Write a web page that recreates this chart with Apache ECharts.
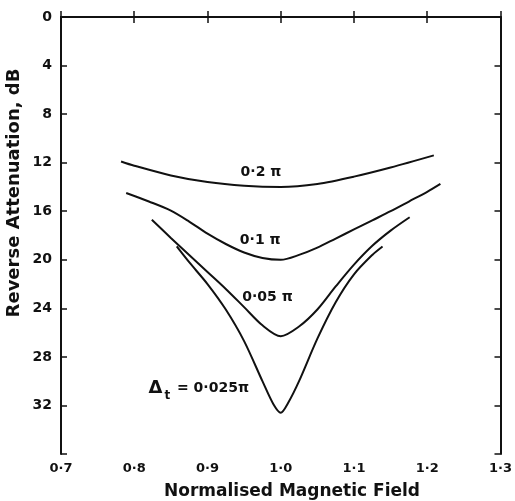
<!DOCTYPE html>
<html>
<head>
<meta charset="utf-8">
<script src="https://cdn.jsdelivr.net/npm/echarts@6/dist/echarts.min.js"></script>
<style>
  html, body { margin: 0; background: #fff; }
  #chart { width: 515px; height: 501px; }
</style>
</head>
<body>
<div id="chart"></div>
<script>
// values
const x02 = [0.782, 0.80, 0.85, 0.90, 0.95, 1.00, 1.05, 1.10, 1.15, 1.209]
const y02 = [11.9, 12.25, 13.05, 13.6, 13.9, 14.0, 13.75, 13.15, 12.4, 11.4]

const x01 = [0.789, 0.82, 0.85, 0.875, 0.90, 0.925, 0.95, 0.975, 1.00, 1.025, 1.05, 1.075, 1.10, 1.125, 1.15, 1.175, 1.20, 1.218]
const y01 = [14.5, 15.2, 15.95, 16.85, 17.85, 18.7, 19.4, 19.85, 20.0, 19.6, 19.0, 18.25, 17.5, 16.75, 16.0, 15.2, 14.4, 13.75]

const x005 = [0.824, 0.85, 0.875, 0.90, 0.925, 0.95, 0.975, 1.00, 1.025, 1.05, 1.075, 1.10, 1.125, 1.15, 1.176]
const y005 = [16.7, 18.2, 19.6, 21.0, 22.4, 23.9, 25.4, 26.3, 25.5, 24.1, 22.2, 20.4, 18.85, 17.6, 16.5]

const x0025 = [0.858, 0.875, 0.90, 0.925, 0.95, 0.975, 0.99, 1.00, 1.01, 1.025, 1.05, 1.075, 1.10, 1.125, 1.139]
const y0025 = [18.9, 20.2, 22.0, 24.1, 26.7, 30.0, 31.9, 32.6, 31.8, 30.0, 26.5, 23.5, 21.2, 19.6, 18.9]

// curve labels: [x, y, text]
const curveLabels = [
  [0.973, 12.8, '0·2 π'],
  [0.972, 18.4, '0·1 π'],
  [0.982, 23.1, '0·05 π'],
  [0.888, 30.6, 'delta']
]

const pairs = (xs, ys) => xs.map((x, i) => [x, ys[i]])
const ink = '#111'
const font = 'DejaVu Sans'
const fmtX = v => v.toFixed(1).replace('.', '·')

const curve = (name, xs, ys) => ({
  name,
  type: 'line',
  data: pairs(xs, ys),
  smooth: 0.3,
  symbol: 'none',
  lineStyle: { color: ink, width: 2 }
})

const baseAxisX = {
  type: 'value',
  min: 0.7,
  max: 1.3,
  interval: 0.1,
  splitLine: { show: false },
  axisLine: { lineStyle: { color: ink, width: 2 } },
  axisTick: { inside: true, length: 6, lineStyle: { color: ink, width: 1.5 } }
}
const baseAxisY = {
  type: 'value',
  inverse: true,
  min: 0,
  max: 36,
  interval: 4,
  splitLine: { show: false },
  axisLine: { lineStyle: { color: ink, width: 2 } },
  axisTick: { inside: true, length: 6, lineStyle: { color: ink, width: 1.5 } }
}

const chart = echarts.init(document.getElementById('chart'))
chart.setOption({
  animation: false,
  grid: { left: 61, right: 12, top: 17, bottom: 47 },
  xAxis: [
    Object.assign({}, baseAxisX, {
      position: 'bottom',
      axisLabel: { color: ink, fontFamily: font, fontSize: 13, fontWeight: 'bold', margin: 8, formatter: fmtX }
    }),
    Object.assign({}, baseAxisX, { position: 'top', axisLabel: { show: false } })
  ],
  yAxis: [
    Object.assign({}, baseAxisY, {
      position: 'left',
      axisLabel: {
        color: ink, fontFamily: font, fontSize: 14, fontWeight: 'bold', margin: 9,
        formatter: v => (v === 36 ? '' : String(v))
      }
    }),
    Object.assign({}, baseAxisY, { position: 'right', axisLabel: { show: false } })
  ],
  graphic: [
    {
      type: 'text', x: 14, y: 193, rotation: Math.PI / 2,
      style: {
        text: 'Reverse Attenuation, dB', fill: ink,
        font: 'bold 18px "DejaVu Sans"', textAlign: 'center', textVerticalAlign: 'middle',
        align: 'center', verticalAlign: 'middle'
      }
    },
    {
      type: 'text', x: 292, y: 492,
      style: {
        text: 'Normalised Magnetic Field', fill: ink,
        font: 'bold 17px "DejaVu Sans"', textAlign: 'center', textVerticalAlign: 'middle',
        align: 'center', verticalAlign: 'middle'
      }
    }
  ],
  series: [
    curve('0.2π', x02, y02),
    curve('0.1π', x01, y01),
    curve('0.05π', x005, y005),
    curve('0.025π', x0025, y0025),
    {
      type: 'scatter',
      symbolSize: 0,
      silent: true,
      itemStyle: { opacity: 1, color: ink },
      data: curveLabels.map(d => ({ value: [d[0], d[1]], text: d[2] })),
      label: {
        show: true,
        position: 'inside',
        color: ink,
        opacity: 1,
        fontFamily: font,
        fontSize: 14,
        fontWeight: 'bold',
        formatter: p => p.data.text === 'delta'
          ? '{d|Δ}{s|t}{a| = 0·025π}'
          : p.data.text,
        rich: {
          d: { fontFamily: font, fontSize: 18, fontWeight: 'bold', color: ink },
          a: { fontFamily: font, fontSize: 14, fontWeight: 'bold', color: ink },
          s: { fontFamily: font, fontSize: 12, fontWeight: 'bold', color: ink, padding: [14, 2, 0, 2] }
        }
      }
    }
  ]
})
</script>
</body>
</html>
